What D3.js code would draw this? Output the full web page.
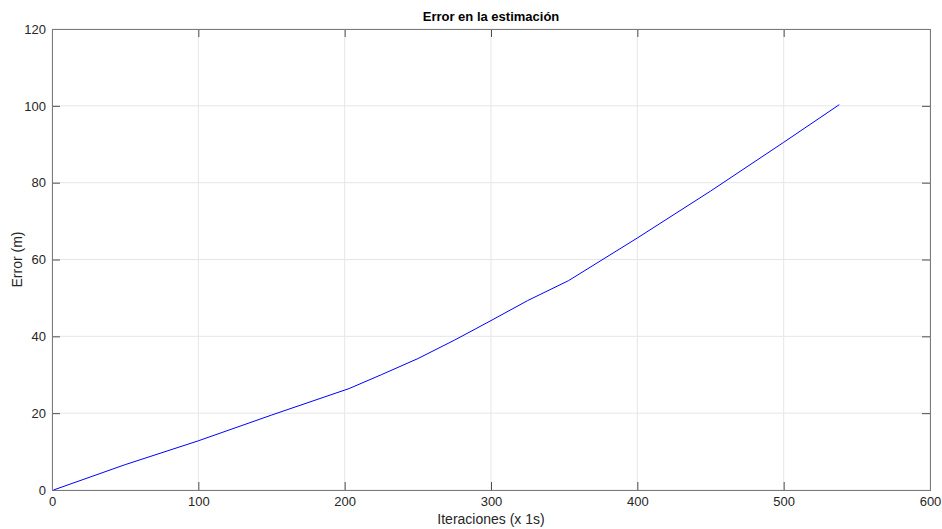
<!DOCTYPE html>
<html>
<head>
<meta charset="utf-8">
<script src="https://cdn.jsdelivr.net/npm/d3@7"></script>
<style>
    body { margin: 0; background: #fff; }
    text { font-family: "Liberation Sans", Arial, Helvetica, sans-serif; fill: #262626; }
    .tick-label { font-size: 13px; }
    .axis-label { font-size: 14px; }
    .title { font-size: 13px; font-weight: bold; fill: #000; }
</style>
</head>
<body>
<div id="chart"></div>
<script>
// ===== Data =====
const iterations = [1, 50, 100, 150, 203, 225, 250, 275, 300, 325, 353, 400, 450, 500, 538];
const errorValues = [0, 6.6, 12.8, 19.5, 26.4, 30.0, 34.2, 39.0, 44.1, 49.3, 54.5, 65.6, 77.8, 90.5, 100.3];
const xTicks = [0, 100, 200, 300, 400, 500, 600];
const yTicks = [0, 20, 40, 60, 80, 100, 120];

// ===== Layout =====
const W = 942, H = 529;
const margin = { top: 29, right: 12, bottom: 39, left: 52 };
const width = W - margin.left - margin.right;
const height = H - margin.top - margin.bottom;
const tickLen = 8;

const svg = d3.select('#chart').append('svg')
    .attr('width', W)
    .attr('height', H);

const g = svg.append('g')
    .attr('transform', `translate(${margin.left},${margin.top})`);

const x = d3.scaleLinear().domain([0, 600]).range([0, width]);
const y = d3.scaleLinear().domain([0, 120]).range([height, 0]);

// Grid
g.append('g')
    .selectAll('line')
    .data(xTicks)
    .enter().append('line')
    .attr('x1', d => x(d)).attr('x2', d => x(d))
    .attr('y1', 0).attr('y2', height)
    .attr('stroke', '#e6e6e6');

g.append('g')
    .selectAll('line')
    .data(yTicks)
    .enter().append('line')
    .attr('x1', 0).attr('x2', width)
    .attr('y1', d => y(d)).attr('y2', d => y(d))
    .attr('stroke', '#e6e6e6');

// Axes (ticks pointing inward, box on)
const axisColor = '#7a7a7a';

function styleAxis(sel) {
    sel.select('.domain').remove();
    sel.selectAll('.tick line').attr('stroke', '#4d4d4d');
    sel.selectAll('.tick text')
        .attr('class', 'tick-label')
        .attr('fill', '#262626')
        .style('font-family', '"Liberation Sans", Arial, sans-serif');
}

g.append('g')
    .attr('transform', `translate(0,${height})`)
    .call(d3.axisBottom(x).tickValues(xTicks).tickSizeInner(-tickLen).tickSizeOuter(0).tickPadding(7))
    .call(styleAxis);

g.append('g')
    .call(d3.axisTop(x).tickValues(xTicks).tickSizeInner(-tickLen).tickSizeOuter(0).tickFormat(''))
    .call(styleAxis);

g.append('g')
    .call(d3.axisLeft(y).tickValues(yTicks).tickSizeInner(-tickLen).tickSizeOuter(0).tickPadding(6))
    .call(styleAxis);

g.append('g')
    .attr('transform', `translate(${width},0)`)
    .call(d3.axisRight(y).tickValues(yTicks).tickSizeInner(-tickLen).tickSizeOuter(0).tickFormat(''))
    .call(styleAxis);

// Box
g.append('rect')
    .attr('x', 0).attr('y', 0)
    .attr('width', width).attr('height', height)
    .attr('fill', 'none')
    .attr('stroke', axisColor)
    .attr('shape-rendering', 'crispEdges');

// Line
const line = d3.line()
    .x((d, i) => x(iterations[i]))
    .y(d => y(d));

g.append('path')
    .datum(errorValues)
    .attr('fill', 'none')
    .attr('stroke', '#0000ff')
    .attr('stroke-width', 1)
    .attr('d', line);

// Labels
svg.append('text')
    .attr('class', 'title')
    .attr('x', margin.left + width / 2)
    .attr('y', 21)
    .attr('text-anchor', 'middle')
    .text('Error en la estimación');

svg.append('text')
    .attr('class', 'axis-label')
    .attr('x', margin.left + width / 2)
    .attr('y', 524)
    .attr('text-anchor', 'middle')
    .text('Iteraciones (x 1s)');

svg.append('text')
    .attr('class', 'axis-label')
    .attr('transform', 'rotate(-90)')
    .attr('x', -(margin.top + height / 2))
    .attr('y', 22)
    .attr('text-anchor', 'middle')
    .text('Error (m)');
</script>
</body>
</html>
